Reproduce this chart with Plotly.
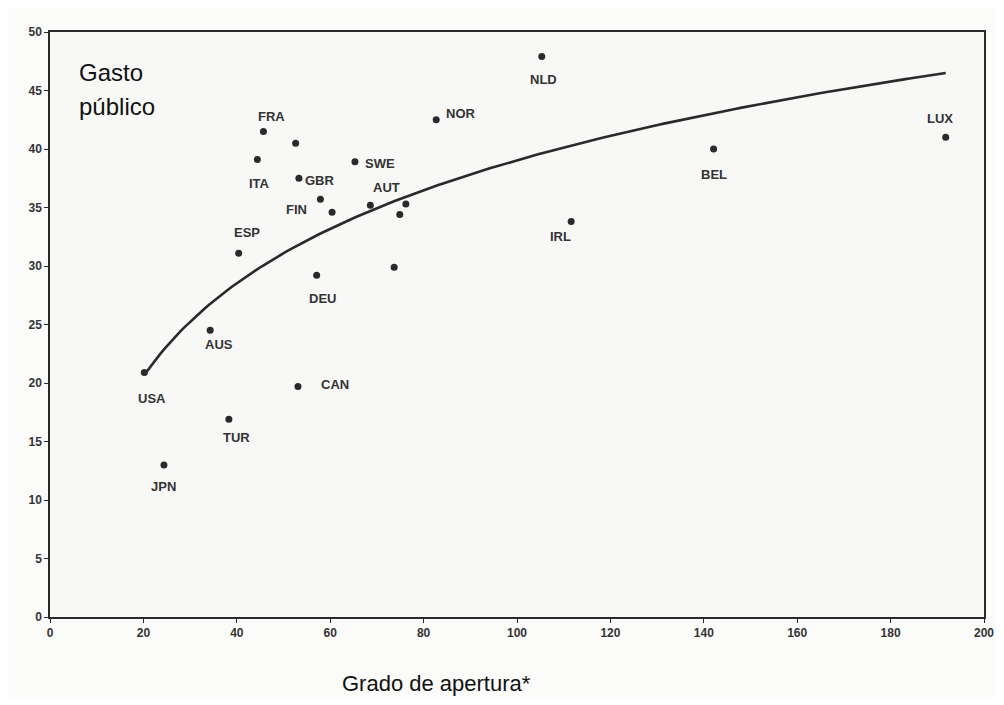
import numpy as np
import plotly.graph_objects as go

# Data
countries = ["USA", "JPN", "AUS", "TUR", "ESP", "ITA", "FRA", "", "GBR", "FIN", "",
             "DEU", "CAN", "SWE", "AUT", "", "", "", "NOR", "NLD", "IRL", "BEL", "LUX"]
apertura = [20.2, 24.4, 34.3, 38.3, 40.4, 44.4, 45.7, 52.6, 53.3, 57.9, 60.4,
            57.1, 53.1, 65.3, 68.6, 74.9, 76.2, 73.7, 82.7, 105.3, 111.6, 142.1, 191.8]
gasto = [20.9, 13.0, 24.5, 16.9, 31.1, 39.1, 41.5, 40.5, 37.5, 35.7, 34.6,
         29.2, 19.7, 38.9, 35.2, 34.4, 35.3, 29.9, 42.5, 47.9, 33.8, 40.0, 41.0]
x_ticks = [0, 20, 40, 60, 80, 100, 120, 140, 160, 180, 200]
y_ticks = [0, 5, 10, 15, 20, 25, 30, 35, 40, 45, 50]

# label pixel offsets (style only)
label_offsets = {
    "USA": (8, -26), "JPN": (0, -22), "AUS": (9, -14), "TUR": (8, -18),
    "CAN": (37, 2), "ESP": (8, 21), "ITA": (2, -24), "FRA": (8, 15),
    "GBR": (21, -2), "FIN": (-24, -10), "DEU": (6, -23), "SWE": (25, -2),
    "AUT": (16, 18), "NOR": (25, 6), "IRL": (-11, -15), "NLD": (2, -23),
    "BEL": (0, -25), "LUX": (-6, 19),
}

ink = "#2a2a2a"

# logarithmic trend line fitted to the data
xa = np.array(apertura)
ya = np.array(gasto)
slope, intercept = np.polyfit(np.log(xa), ya, 1)
xs = np.linspace(xa.min(), xa.max(), 200)
ys = intercept + slope * np.log(xs)

fig = go.Figure()
fig.add_trace(go.Scatter(x=xs, y=ys, mode="lines",
                         line=dict(color=ink, width=2.6), hoverinfo="skip"))
fig.add_trace(go.Scatter(x=apertura, y=gasto, mode="markers", text=countries,
                         marker=dict(color=ink, size=7, symbol="circle")))

for c, x, y in zip(countries, apertura, gasto):
    if not c:
        continue
    dx, dy = label_offsets[c]
    fig.add_annotation(x=x, y=y, text=c, showarrow=False, xshift=dx, yshift=dy,
                       font=dict(family="Liberation Sans, Arial", size=13,
                                 color="#333", weight="bold"))

fig.add_annotation(xref="paper", yref="y", x=0.029, y=(617 - 72) / 11.7,
                   text="Gasto", showarrow=False, xanchor="left", yanchor="middle",
                   font=dict(family="Liberation Sans, Arial", size=24, color="#111"))
fig.add_annotation(xref="paper", yref="y", x=0.029, y=(617 - 106) / 11.7,
                   text="público", showarrow=False, xanchor="left", yanchor="middle",
                   font=dict(family="Liberation Sans, Arial", size=24, color="#111"))
fig.add_annotation(xref="paper", yref="paper", x=0.414, y=-0.113,
                   text="Grado de apertura*", showarrow=False,
                   xanchor="center", yanchor="middle",
                   font=dict(family="Liberation Sans, Arial", size=22, color="#111"))

axis_common = dict(showline=True, linecolor=ink, linewidth=1.5, mirror=True,
                   ticks="outside", ticklen=4, tickcolor=ink, tickwidth=1.2,
                   showgrid=False, zeroline=False, ticklabeloverflow="allow",
                   automargin=False,
                   tickfont=dict(family="Liberation Sans, Arial", size=12,
                                 color="#333", weight="bold"))
fig.update_xaxes(range=[0, 200], tickvals=x_ticks, **axis_common)
fig.update_yaxes(range=[0, 50], tickvals=y_ticks, **axis_common)

fig.update_layout(width=988, height=689, margin=dict(l=42, r=12, t=24, b=80),
                  paper_bgcolor="#fbfbfa", plot_bgcolor="#f8f8f7",
                  showlegend=False)

fig.write_html("out.html")
